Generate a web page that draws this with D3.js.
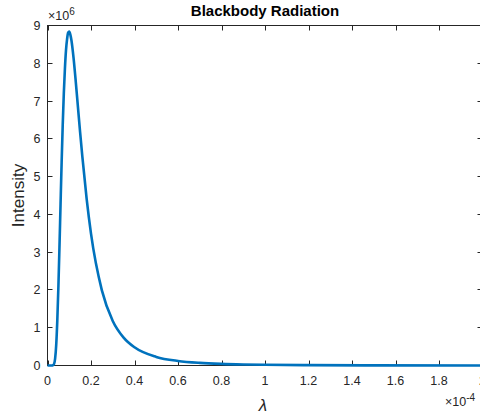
<!DOCTYPE html>
<html>
<head>
<meta charset="utf-8">
<script src="https://cdn.jsdelivr.net/npm/d3@7"></script>
<style>
body { margin: 0; background: #fff; }
text { font-family: "Liberation Sans", Arial, sans-serif; fill: #262626; }
</style>
</head>
<body>
<div id="chart"></div>
<script>
// wavelength in units of 1e-4, intensity in units of 1e6
var lambda = [0, 0.01, 0.02, 0.025, 0.03, 0.035, 0.04, 0.045, 0.05, 0.055, 0.06, 0.065, 0.07,
	0.075, 0.08, 0.085, 0.09, 0.095, 0.1, 0.105, 0.11, 0.12, 0.13, 0.14, 0.15, 0.16, 0.18,
	0.2, 0.25, 0.3, 0.35, 0.4, 0.5, 0.6, 0.7, 0.8, 0.9, 1.0, 1.2, 1.5, 2.0];
var intensity = [0, 0, 0, 0.004, 0.038, 0.183, 0.54, 1.18, 2.07, 3.13, 4.27, 5.38, 6.37,
	7.20, 7.85, 8.34, 8.64, 8.81, 8.84, 8.76, 8.61, 8.13, 7.51, 6.84, 6.17, 5.54, 4.41,
	3.49, 1.99, 1.18, 0.739, 0.482, 0.228, 0.121, 0.0697, 0.0429, 0.0278, 0.0188, 0.0095, 0.0041, 0.0012];
var xTicks = [0, 0.2, 0.4, 0.6, 0.8, 1, 1.2, 1.4, 1.6, 1.8, 2];
var yTicks = [0, 1, 2, 3, 4, 5, 6, 7, 8, 9];

var width = 480;
var height = 416;
var mLeft = 47.5, mRight = 482.5, mTop = 25.5, mBottom = 365.5;

var svg = d3.select("#chart")
	.append("svg")
	.attr("width", width)
	.attr("height", height);

var x = d3.scaleLinear().domain([0, 2]).range([mLeft, mRight]);
var y = d3.scaleLinear().domain([0, 9]).range([mBottom, mTop]);

var data = lambda.map(function(d, i) { return {x: d, y: intensity[i]}; });

// axes box
var axisColor = "#262626";
var tickLen = 5;

svg.append("rect")
	.attr("x", mLeft).attr("y", mTop)
	.attr("width", mRight - mLeft).attr("height", mBottom - mTop)
	.style("fill", "none").style("stroke", axisColor).style("stroke-width", 1);

xTicks.forEach(function(t) {
	var px = Math.round(x(t)) + 0.5;
	svg.append("line").attr("x1", px).attr("x2", px).attr("y1", mBottom).attr("y2", mBottom - tickLen)
		.style("stroke", axisColor);
	svg.append("line").attr("x1", px).attr("x2", px).attr("y1", mTop).attr("y2", mTop + tickLen)
		.style("stroke", axisColor);
	svg.append("text").attr("x", x(t)).attr("y", mBottom + 19)
		.attr("text-anchor", "middle").style("font-size", "12.5px")
		.text(t);
});

yTicks.forEach(function(t) {
	var py = Math.round(y(t) - 0.5) + 0.5;
	svg.append("line").attr("x1", mLeft).attr("x2", mLeft + tickLen).attr("y1", py).attr("y2", py)
		.style("stroke", axisColor);
	svg.append("line").attr("x1", mRight).attr("x2", mRight - tickLen).attr("y1", py).attr("y2", py)
		.style("stroke", axisColor);
	svg.append("text").attr("x", mLeft - 7).attr("y", y(t) + 4.5)
		.attr("text-anchor", "end").style("font-size", "12.5px")
		.text(t);
});

// exponent labels
var e1 = svg.append("text").attr("x", 48).attr("y", 20).style("font-size", "12.5px");
e1.append("tspan").text("\u00d710");
e1.append("tspan").attr("dy", -5).style("font-size", "10px").text("6");

var e2 = svg.append("text").attr("x", 445).attr("y", 406).style("font-size", "12.5px");
e2.append("tspan").text("\u00d710");
e2.append("tspan").attr("dy", -5).style("font-size", "10px").text("-4");

// curve
var line = d3.line()
	.x(function(d) { return x(d.x); })
	.y(function(d) { return y(d.y); })
	.curve(d3.curveMonotoneX);

svg.append("path")
	.datum(data)
	.attr("d", line)
	.style("fill", "none")
	.style("stroke", "#0072BD")
	.style("stroke-width", 2.6)
	.style("stroke-linejoin", "round");

// title and labels
svg.append("text").attr("x", (mLeft + mRight) / 2).attr("y", 16)
	.attr("text-anchor", "middle").style("font-size", "15px").style("font-weight", "bold")
	.style("fill", "#000")
	.text("Blackbody Radiation");

svg.append("text").attr("x", (mLeft + mRight) / 2 - 2).attr("y", 411)
	.attr("text-anchor", "middle").style("font-size", "17px").style("font-style", "italic")
	.text("\u03bb");

svg.append("text")
	.attr("transform", "translate(24," + ((mTop + mBottom) / 2) + ") rotate(-90)")
	.attr("text-anchor", "middle").style("font-size", "17px")
	.text("Intensity");
</script>
</body>
</html>
